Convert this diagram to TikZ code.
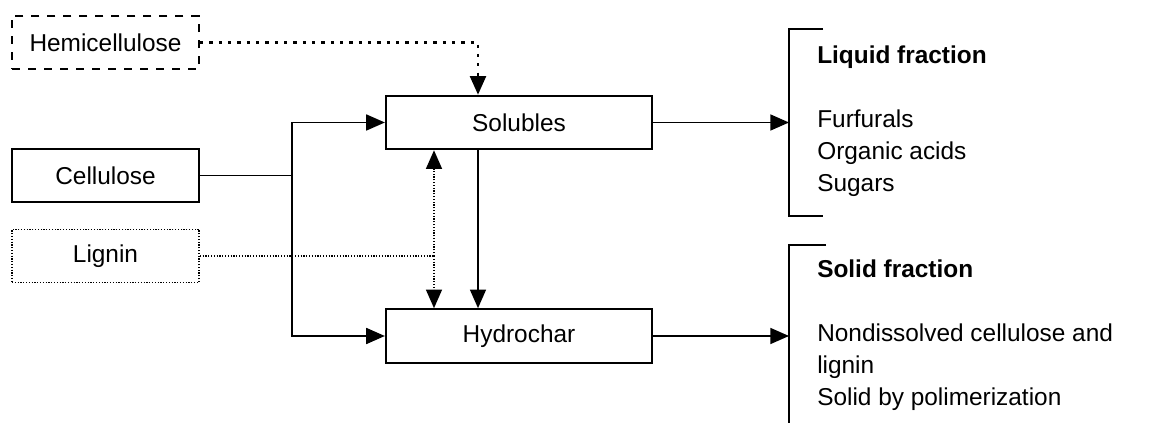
\documentclass[tikz,border=0pt]{standalone}
\usepackage{fontspec}
\setmainfont{Liberation Sans}
\usetikzlibrary{arrows.meta}
\begin{document}
\begin{tikzpicture}[x=0.75pt,y=-0.75pt,
  every node/.style={font=\fontsize{18.3}{22}\selectfont, inner sep=0pt},
  box/.style={draw, line width=1.7pt, minimum width=#1*0.75pt, minimum height=40pt},
  conn/.style={line width=1.2pt},
  tip/.style={-{Triangle[length=14pt,width=12pt]}},
  arr/.style={conn, tip},
  hdash/.style={dash pattern=on 6pt off 6pt},
  hdot/.style={dash pattern=on 2.4pt off 4.6pt, line width=1.8pt},
  ldot/.style={dash pattern=on 0.9pt off 1.2pt},
  txt/.style={anchor=base west},
  brk/.style={line width=1.7pt}]
\useasboundingbox (0,0) rectangle (1163,423);
% boxes
\node[box=187, hdash] (hemi) at (105.5,42.5) {Hemicellulose};
\node[box=187] (cel) at (105.5,175.5) {Cellulose};
\node[box=187, ldot, line width=1.2pt] (lig) at (105.5,256) {Lignin};
\node[box=266] (sol) at (519,122.5) {Solubles};
\node[box=266] (hyd) at (519,336) {Hydrochar};
% helper coordinates
\coordinate (x478) at (478,0);
\coordinate (x434) at (434,0);
\coordinate (j) at (292,175.5);
\coordinate (lj) at (434,256);
\coordinate (bl) at (789,0);
% connectors
\draw[hdot, tip] (hemi.east) -| (x478 |- sol.north);
\draw[conn] (cel.east) -- (j);
\draw[arr] (j) |- (sol.west);
\draw[arr] (j) |- (hyd.west);
\draw[conn, ldot] (lig.east) -- (lj);
\draw[conn, ldot, tip] (lj) -- (x434 |- sol.south);
\draw[conn, ldot, tip] (lj) -- (x434 |- hyd.north);
\draw[arr] (x478 |- sol.south) -- (x478 |- hyd.north);
\draw[arr] (sol.east) -- (bl |- sol.east);
\draw[arr] (hyd.east) -- (bl |- hyd.east);
% brackets
\coordinate (lt) at (823,29);
\coordinate (lb) at (823,216);
\coordinate (st) at (826,245);
\coordinate (sb) at (789,423);
\draw[brk] (lt) -- (bl |- lt) -- (bl |- lb) -- (lb);
\draw[brk] (st) -- (bl |- st) -- (sb);
% texts
\node[txt, font=\fontsize{18.3}{22}\selectfont\bfseries] (lf) at (817,64) {Liquid fraction};
\node[txt] (l1) at (817,128) {Furfurals};
\node[txt] (l2) at (817,160) {Organic acids};
\node[txt] (l3) at (817,192) {Sugars};
\node[txt, font=\fontsize{18.3}{22}\selectfont\bfseries] (sf) at (817,278) {Solid fraction};
\node[txt] (s1) at (817,342) {Nondissolved cellulose and};
\node[txt] (s2) at (817,374) {lignin};
\node[txt] (s3) at (817,406) {Solid by polimerization};
\end{tikzpicture}
\end{document}
